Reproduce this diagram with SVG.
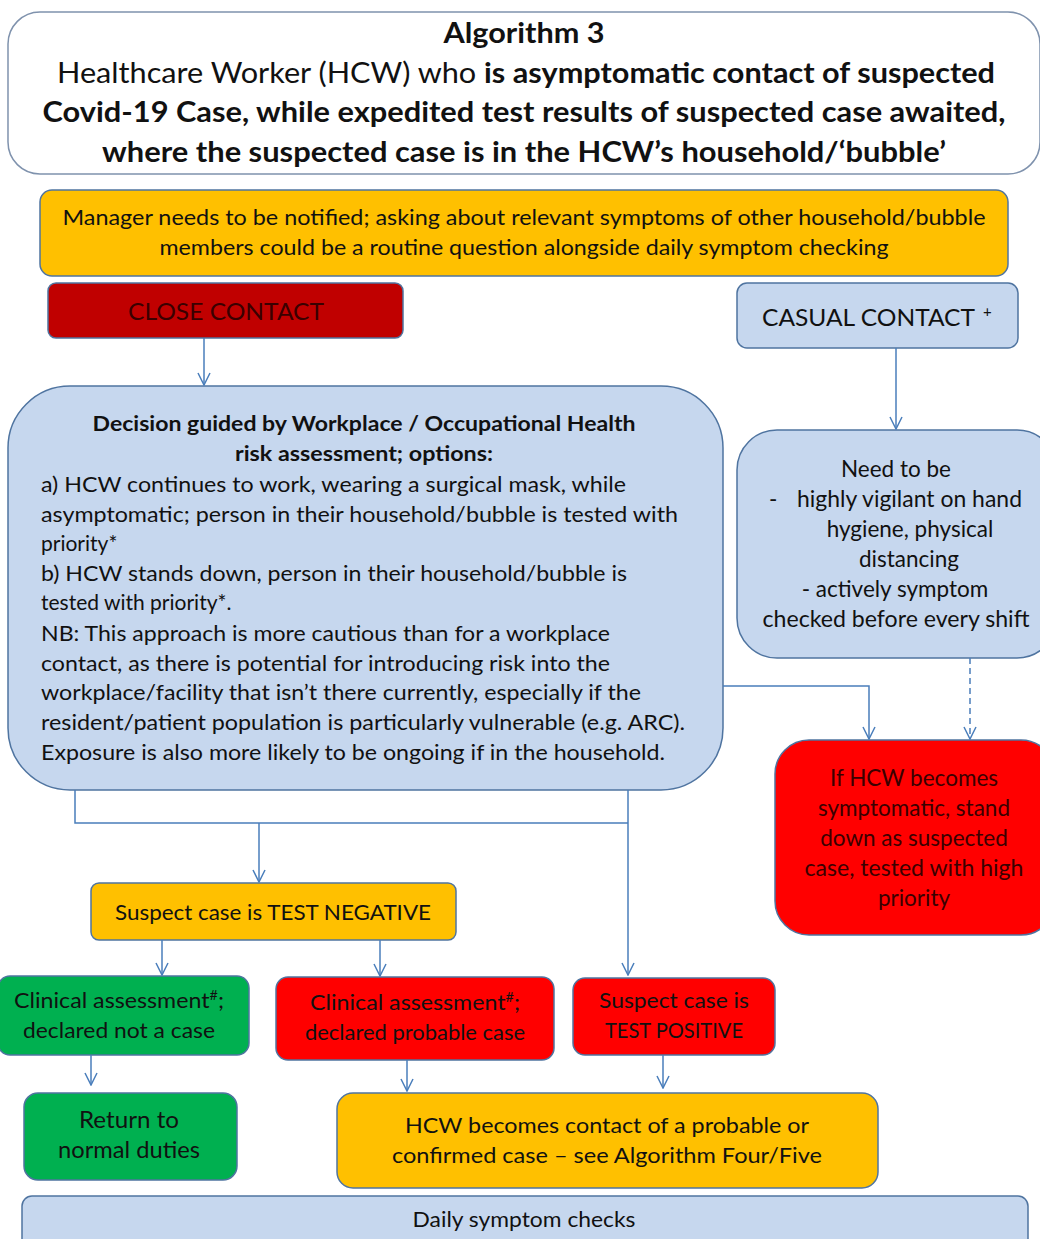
<svg xmlns="http://www.w3.org/2000/svg" width="1040" height="1239" viewBox="0 0 1040 1239">
  <defs>
    <marker id="arrow" viewBox="0 0 14 14" refX="13" refY="7" markerWidth="14" markerHeight="14" markerUnits="userSpaceOnUse" orient="auto">
      <path d="M1,1 L13,7 L1,13" fill="none" stroke="#4A7EBB" stroke-width="1.5"/>
    </marker>
    <style>
      text { font-family: Lato, "Liberation Sans", sans-serif; fill: #111111; }
      .c { text-anchor: middle; }
      .b { font-weight: bold; }
      .box { stroke: #4F74A0; stroke-width: 1.5; }
      .blue { fill: #C6D7EE; }
      .orange { fill: #FFC000; }
      .red { fill: #FF0000; }
      .dred { fill: #C00000; }
      .green { fill: #00B050; }
      .t21 { font-size: 21px; }
      .t22 { font-size: 22.5px; }
      .t24 { font-size: 24px; }
      .maroon { fill: #3a0000; }
      .conn { fill: none; stroke: #4A7EBB; stroke-width: 1.5; }
    </style>
  </defs>
  <rect width="1040" height="1239" fill="#ffffff"/>

  <!-- title -->
  <g id="title">
    <rect x="8" y="12" width="1032" height="162" rx="32" fill="#ffffff" stroke="#7f92ad" stroke-width="1.5"/>
    <text class="c b" x="524" y="43" font-size="28" textLength="161" lengthAdjust="spacingAndGlyphs">Algorithm 3</text>
    <text class="c" x="526" y="83" font-size="28" textLength="938" lengthAdjust="spacingAndGlyphs">Healthcare Worker (HCW) who <tspan class="b">is asymptomatic contact of suspected</tspan></text>
    <text class="c b" x="524" y="122" font-size="28" textLength="963" lengthAdjust="spacingAndGlyphs">Covid-19 Case, while expedited test results of suspected case awaited,</text>
    <text class="c b" x="524" y="162" font-size="28" textLength="844" lengthAdjust="spacingAndGlyphs">where the suspected case is in the HCW’s household/‘bubble’</text>
  </g>

  <!-- manager notification -->
  <g id="manager">
    <rect class="box orange" x="40" y="190" width="968" height="86" rx="12"/>
    <text class="c t21" x="524" y="225" textLength="923" lengthAdjust="spacingAndGlyphs">Manager  needs to be notified; asking about relevant symptoms of other household/bubble</text>
    <text class="c t21" x="524" y="255" textLength="729" lengthAdjust="spacingAndGlyphs">members could be a routine question alongside daily symptom checking</text>
  </g>

  <!-- contact types -->
  <g id="close-contact">
    <rect class="box dred" x="48" y="283" width="355" height="55" rx="8"/>
    <text class="c t24 maroon" x="226" y="320" textLength="196" lengthAdjust="spacingAndGlyphs">CLOSE CONTACT</text>
  </g>
  <g id="casual-contact">
    <rect class="box blue" x="737" y="283" width="281" height="65" rx="10"/>
    <text class="t24" x="762" y="326" textLength="213" lengthAdjust="spacingAndGlyphs">CASUAL CONTACT</text>
    <text x="983" y="317" font-size="15">+</text>
  </g>

  <!-- risk assessment decision -->
  <g id="decision">
    <rect class="box blue" x="8" y="386" width="715" height="404" rx="62"/>
    <text class="c b t21" x="364" y="431" textLength="543" lengthAdjust="spacingAndGlyphs">Decision guided by Workplace / Occupational  Health</text>
    <text class="c b t21" x="364" y="461" textLength="258" lengthAdjust="spacingAndGlyphs">risk assessment; options:</text>
    <text class="t21" x="41" y="492" textLength="585" lengthAdjust="spacingAndGlyphs">a) HCW  continues to work, wearing a surgical mask, while</text>
    <text class="t21" x="41" y="522" textLength="637" lengthAdjust="spacingAndGlyphs">asymptomatic; person in their household/bubble is tested with</text>
    <text class="t21" x="41" y="551">priority*</text>
    <text class="t21" x="41" y="581" textLength="586" lengthAdjust="spacingAndGlyphs">b) HCW stands down, person in their household/bubble is</text>
    <text class="t21" x="41" y="610">tested with priority*.</text>
    <text class="t21" x="41" y="641" textLength="569" lengthAdjust="spacingAndGlyphs">NB: This approach  is more cautious than for a workplace</text>
    <text class="t21" x="41" y="671" textLength="569" lengthAdjust="spacingAndGlyphs">contact, as there is potential for introducing risk into the</text>
    <text class="t21" x="41" y="700" textLength="600" lengthAdjust="spacingAndGlyphs">workplace/facility that isn’t there currently, especially if the</text>
    <text class="t21" x="41" y="730" textLength="644" lengthAdjust="spacingAndGlyphs">resident/patient population is particularly vulnerable (e.g. ARC).</text>
    <text class="t21" x="41" y="760" textLength="624" lengthAdjust="spacingAndGlyphs">Exposure is also more likely to be ongoing if in the household.</text>
  </g>

  <!-- casual contact precautions -->
  <g id="precautions">
    <rect class="box blue" x="737" y="430" width="320" height="228" rx="40"/>
    <text class="c t22" x="896" y="477">Need to be</text>
    <text class="t22" x="769" y="507">-</text>
    <text class="t22" x="797" y="507" textLength="225" lengthAdjust="spacingAndGlyphs">highly vigilant on hand</text>
    <text class="c t22" x="910" y="537">hygiene, physical</text>
    <text class="c t22" x="909" y="567">distancing</text>
    <text class="c t22" x="895" y="597">- actively symptom</text>
    <text class="c t22" x="896" y="627" textLength="267" lengthAdjust="spacingAndGlyphs">checked before every shift</text>
  </g>

  <!-- symptomatic outcome -->
  <g id="symptomatic">
    <rect class="box red" x="775" y="740" width="280" height="195" rx="34"/>
    <text class="c t22 maroon" x="914" y="786">If HCW becomes</text>
    <text class="c t22 maroon" x="914" y="816">symptomatic, stand</text>
    <text class="c t22 maroon" x="914" y="846">down as suspected</text>
    <text class="c t22 maroon" x="914" y="876" textLength="219" lengthAdjust="spacingAndGlyphs">case, tested with high</text>
    <text class="c t22 maroon" x="914" y="906">priority</text>
  </g>

  <!-- test results -->
  <g id="test-negative">
    <rect class="box orange" x="91" y="883" width="365" height="57" rx="8"/>
    <text class="c t21" x="273" y="920" textLength="316" lengthAdjust="spacingAndGlyphs">Suspect  case is TEST  NEGATIVE</text>
  </g>
  <g id="not-a-case">
    <rect class="box green" x="-2" y="976" width="251" height="79" rx="12"/>
    <text class="c t21" x="119" y="1008" textLength="210" lengthAdjust="spacingAndGlyphs">Clinical assessment<tspan font-size="13" dy="-8">#</tspan><tspan dy="8">;</tspan></text>
    <text class="c t21" x="119" y="1038" textLength="192" lengthAdjust="spacingAndGlyphs">declared not a case</text>
  </g>
  <g id="probable-case">
    <rect class="box red" x="276" y="977" width="278" height="83" rx="12"/>
    <text class="c t21" x="415" y="1010" textLength="210" lengthAdjust="spacingAndGlyphs">Clinical assessment<tspan font-size="13" dy="-8">#</tspan><tspan dy="8">;</tspan></text>
    <text class="c t21" x="415" y="1040" textLength="220" lengthAdjust="spacingAndGlyphs">declared probable case</text>
  </g>
  <g id="test-positive">
    <rect class="box red" x="573" y="978" width="202" height="77" rx="12"/>
    <text class="c t21" x="674" y="1008" textLength="150" lengthAdjust="spacingAndGlyphs">Suspect  case is</text>
    <text class="c t21" x="674" y="1038" textLength="138" lengthAdjust="spacingAndGlyphs">TEST POSITIVE</text>
  </g>

  <!-- final actions -->
  <g id="return-duties">
    <rect class="box green" x="24" y="1093" width="213" height="87" rx="14"/>
    <text class="c t22" x="129" y="1128" textLength="100" lengthAdjust="spacingAndGlyphs">Return  to</text>
    <text class="c t22" x="129" y="1158" textLength="142" lengthAdjust="spacingAndGlyphs">normal duties</text>
  </g>
  <g id="contact-algorithm">
    <rect class="box orange" x="337" y="1093" width="541" height="95" rx="16"/>
    <text class="c t21" x="607" y="1133" textLength="404" lengthAdjust="spacingAndGlyphs">HCW becomes  contact of a probable or</text>
    <text class="c t21" x="607" y="1163" textLength="430" lengthAdjust="spacingAndGlyphs">confirmed case – see  Algorithm Four/Five</text>
  </g>
  <g id="daily-checks">
    <rect class="box blue" x="22" y="1196" width="1006" height="60" rx="10"/>
    <text class="c t21" x="524" y="1227" textLength="223" lengthAdjust="spacingAndGlyphs">Daily symptom checks</text>
  </g>

  <!-- connectors -->
  <g id="connectors">
    <path class="conn" d="M204,338 V385" marker-end="url(#arrow)"/>
    <path class="conn" d="M896,348 V429" marker-end="url(#arrow)"/>
    <path class="conn" d="M723,686 H869 V739" marker-end="url(#arrow)"/>
    <path class="conn" d="M970,658 V739" stroke-dasharray="6,4" marker-end="url(#arrow)"/>
    <path class="conn" d="M75,790 V823 H628"/>
    <path class="conn" d="M628,790 V975" marker-end="url(#arrow)"/>
    <path class="conn" d="M259,823 V882" marker-end="url(#arrow)"/>
    <path class="conn" d="M162,940 V975" marker-end="url(#arrow)"/>
    <path class="conn" d="M380,940 V976" marker-end="url(#arrow)"/>
    <path class="conn" d="M91,1055 V1085" marker-end="url(#arrow)"/>
    <path class="conn" d="M407,1060 V1091" marker-end="url(#arrow)"/>
    <path class="conn" d="M663,1055 V1088" marker-end="url(#arrow)"/>
  </g>
</svg>
